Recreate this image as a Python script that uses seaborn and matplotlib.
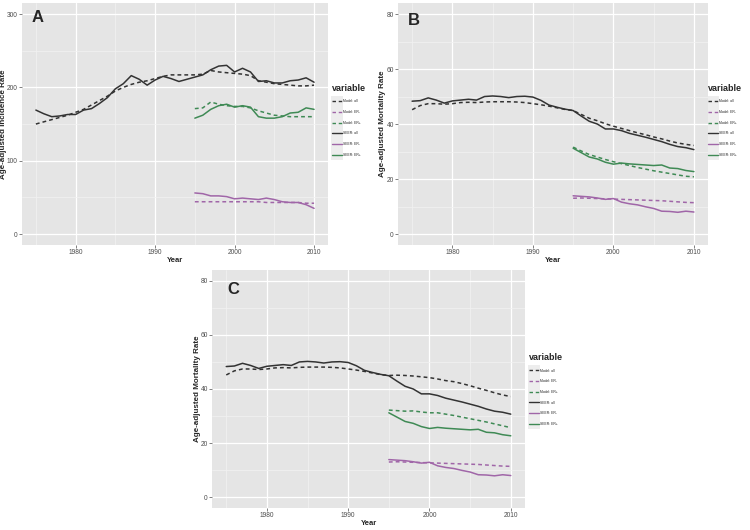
import numpy as np
import pandas as pd
import matplotlib
matplotlib.use("Agg")
import matplotlib.pyplot as plt
from matplotlib.patches import Rectangle
import seaborn as sns

# ---- data ----
years_all = list(range(1975, 2011))
years_er = list(range(1995, 2011))

# Panel A: incidence
a_seer_all = [169, 164, 160, 161, 163, 163, 169, 171, 178, 186, 198, 205, 216, 211, 203, 210,
              215, 212, 208, 211, 214, 217, 224, 229, 230, 221, 226, 221, 208, 209, 206, 206,
              209, 210, 213, 207]
a_model_all = [150, 153, 156, 159, 162, 166, 170, 176, 182, 188, 195, 200, 204, 207, 209, 212,
               215, 217, 217, 217, 217, 218, 223, 221, 220, 219, 218, 216, 209, 207, 205, 204,
               203, 202, 202, 203]
a_model_erp = [171, 172, 180, 177, 175, 174, 174, 172, 168, 165, 162, 161, 160, 160, 160, 160]
a_seer_erp = [158, 162, 170, 175, 177, 173, 175, 173, 160, 158, 158, 160, 165, 166, 172, 170]
a_model_ern = [44, 44, 44, 44, 44, 44, 44, 44, 44, 43, 43, 43, 43, 43, 42, 42]
a_seer_ern = [56, 55, 52, 52, 51, 48, 49, 48, 47, 49, 47, 44, 43, 43, 40, 35]

# Panels B and C: mortality (SEER is the same in both)
m_seer_all = [48.3, 48.5, 49.5, 48.7, 47.6, 48.4, 48.7, 49.0, 48.7, 50.0, 50.2, 50.0, 49.6, 50.0,
              50.1, 49.8, 48.6, 46.9, 46.1, 45.4, 44.9, 42.9, 41.0, 40.0, 38.2, 38.2, 37.6, 36.6,
              35.9, 35.2, 34.4, 33.6, 32.6, 31.8, 31.4, 30.7]
m_seer_erp = [31.2, 29.6, 28.0, 27.3, 26.1, 25.4, 25.8, 25.5, 25.3, 25.1, 24.9, 25.1, 24.0, 23.8,
              23.1, 22.7]
m_seer_ern = [13.9, 13.7, 13.5, 13.1, 12.6, 12.9, 11.6, 11.0, 10.6, 9.9, 9.3, 8.3, 8.2, 7.9, 8.3, 8.0]

b_model_all = [45.2, 46.7, 47.4, 47.4, 47.2, 47.4, 47.8, 47.9, 47.8, 48.0, 48.1, 48.1, 48.1, 48.0,
               47.8, 47.4, 47.0, 46.5, 45.9, 45.3, 44.9, 43.5, 42.1, 41.2, 40.1, 39.2, 38.4, 37.6,
               36.8, 36.1, 35.3, 34.6, 33.8, 33.1, 32.6, 32.2]
b_model_erp = [31.6, 30.2, 28.9, 28.0, 27.1, 26.3, 25.6, 24.9, 24.2, 23.6, 23.0, 22.5, 22.0, 21.5,
               21.0, 20.8]
b_model_ern = [13.0, 13.1, 13.0, 12.9, 12.8, 12.7, 12.6, 12.5, 12.4, 12.3, 12.2, 12.1, 11.9, 11.7,
               11.5, 11.4]

c_model_all = [45.2, 46.7, 47.4, 47.4, 47.2, 47.4, 47.8, 47.9, 47.8, 48.0, 48.1, 48.1, 48.1, 48.0,
               47.8, 47.4, 47.0, 46.5, 45.9, 45.3, 45.0, 45.1, 45.0, 44.8, 44.5, 44.2, 43.7, 43.1,
               42.7, 42.0, 41.2, 40.3, 39.5, 38.6, 37.8, 37.2]
c_model_erp = [32.2, 32.0, 31.8, 31.9, 31.5, 31.2, 31.2, 30.7, 30.2, 29.6, 29.0, 28.4, 27.8, 27.1,
               26.4, 25.7]
c_model_ern = [13.0, 13.1, 13.0, 12.9, 12.8, 12.7, 12.6, 12.5, 12.4, 12.3, 12.2, 12.1, 11.9, 11.7,
               11.5, 11.4]

labels = ["Model: all", "Model: ER-", "Model: ER+", "SEER: all", "SEER: ER-", "SEER: ER+"]
palette = {"Model: all": "#333333", "Model: ER-": "#A066A8", "Model: ER+": "#3F8A55",
           "SEER: all": "#333333", "SEER: ER-": "#A066A8", "SEER: ER+": "#3F8A55"}
dashes = {"Model: all": (2.5, 2), "Model: ER-": (2.5, 2), "Model: ER+": (2.5, 2),
          "SEER: all": "", "SEER: ER-": "", "SEER: ER+": ""}


def make_df(model_all, model_ern, model_erp, seer_all, seer_ern, seer_erp):
    parts = []
    for name, yrs, vals in [("Model: all", years_all, model_all),
                            ("Model: ER-", years_er, model_ern),
                            ("Model: ER+", years_er, model_erp),
                            ("SEER: all", years_all, seer_all),
                            ("SEER: ER-", years_er, seer_ern),
                            ("SEER: ER+", years_er, seer_erp)]:
        parts.append(pd.DataFrame({"Year": yrs, "value": vals, "variable": name}))
    return pd.concat(parts, ignore_index=True)


sns.set_theme(style="darkgrid", rc={
    "axes.facecolor": "#E5E5E5",
    "grid.color": "white",
    "axes.edgecolor": "#E5E5E5",
})
plt.rcParams["font.family"] = ["Liberation Sans", "DejaVu Sans"]

fig = plt.figure(figsize=(7.5, 5.3), dpi=100)

panels = [
    ("A", make_df(a_model_all, a_model_ern, a_model_erp, a_seer_all, a_seer_ern, a_seer_erp),
     [0.0293, 0.5377, 0.408, 0.4566], 300, [0, 100, 200, 300], "Age-adjusted Incidence Rate",
     (0.442, 0.842), (0.033, 0.97), -0.05),
    ("B", make_df(b_model_all, b_model_ern, b_model_erp, m_seer_all, m_seer_ern, m_seer_erp),
     [0.5307, 0.5377, 0.4133, 0.4566], 80, [0, 20, 40, 60, 80], "Age-adjusted Mortality Rate",
     (0.944, 0.842), (0.033, 0.96), -0.04),
    ("C", make_df(c_model_all, c_model_ern, c_model_erp, m_seer_all, m_seer_ern, m_seer_erp),
     [0.2827, 0.0415, 0.4173, 0.4491], 80, [0, 20, 40, 60, 80], "Age-adjusted Mortality Rate",
     (0.705, 0.334), (0.048, 0.95), -0.035),
]

legends = []
for letter, df, pos, ymax, yticks, ylabel, legpos, letpos, ylab_x in panels:
    ax = fig.add_axes(pos)
    sns.lineplot(data=df, x="Year", y="value", hue="variable", style="variable",
                 hue_order=labels, style_order=labels, palette=palette, dashes=dashes,
                 linewidth=1.1, ax=ax, legend=True)
    ax.set_xlim(1973.25, 2011.75)
    ax.set_ylim(-ymax * 0.05, ymax * 1.05)
    ax.set_xticks([1980, 1990, 2000, 2010])
    ax.set_yticks(yticks)
    ax.set_xticks([1975, 1985, 1995, 2005], minor=True)
    ax.set_yticks([(yticks[i] + yticks[i + 1]) / 2 for i in range(len(yticks) - 1)], minor=True)
    ax.grid(which="major", color="white", linewidth=0.9)
    ax.grid(which="minor", color="#F2F2F2", linewidth=0.5)
    ax.tick_params(axis="both", which="major", labelsize=4.8, colors="#4D4D4D",
                   length=2, width=0.5, pad=1.0, left=True, bottom=True)
    ax.tick_params(which="minor", length=0)
    ax.set_xlabel("Year", fontsize=5.5, fontweight="bold", labelpad=0.3)
    ax.set_ylabel(ylabel, fontsize=5.8, fontweight="bold")
    ax.yaxis.set_label_coords(ylab_x, 0.5)
    ax.text(letpos[0], letpos[1], letter, transform=ax.transAxes, fontsize=12,
            fontweight="bold", va="top", ha="left")
    for s in ax.spines.values():
        s.set_visible(False)

    leg = ax.legend(title="variable", loc="upper left", bbox_to_anchor=legpos,
                    bbox_transform=fig.transFigure, frameon=False, fontsize=2.4,
                    title_fontsize=6.5, handlelength=3.0, labelspacing=2.0,
                    handletextpad=0.4, borderaxespad=0, borderpad=0)
    leg.get_title().set_fontweight("bold")
    leg._legend_box.align = "left"
    for line in leg.get_lines():
        line.set_linewidth(1.0)
    legends.append(leg)

# grey key boxes behind the legend handles, as in ggplot
fig.canvas.draw()
for leg in legends:
    boxes = [ln.get_window_extent() for ln in leg.get_lines()]
    x0 = min(b.x0 for b in boxes) - 1
    x1 = max(b.x1 for b in boxes) + 1
    step = (boxes[0].y0 + boxes[0].y1 - boxes[-1].y0 - boxes[-1].y1) / 2 / (len(boxes) - 1)
    y1 = (boxes[0].y0 + boxes[0].y1) / 2 + step / 2
    y0 = (boxes[-1].y0 + boxes[-1].y1) / 2 - step / 2
    W, H = fig.bbox.width, fig.bbox.height
    fig.patches.append(Rectangle((x0 / W, y0 / H), (x1 - x0) / W, (y1 - y0) / H,
                                 transform=fig.transFigure, facecolor="#EDEDED",
                                 edgecolor="none", zorder=-1))

fig.savefig("out.png", dpi=100)
